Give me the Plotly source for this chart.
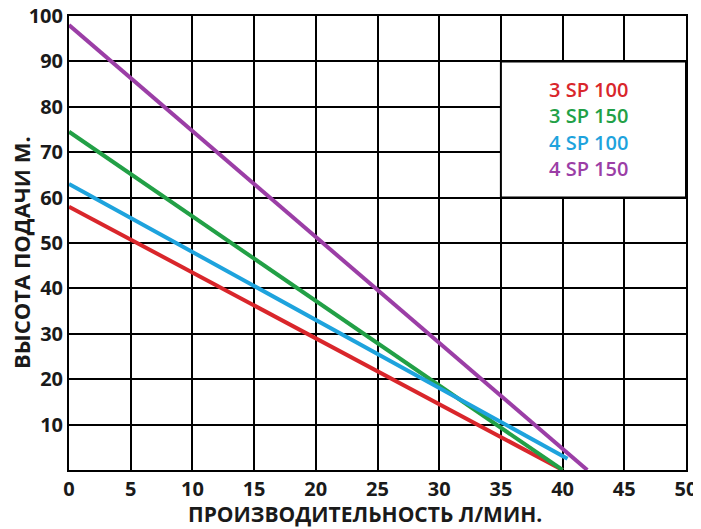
import plotly.graph_objects as go

# Pump curves: flow (l/min) vs head (m).
names = ['3 SP 100', '3 SP 150', '4 SP 100', '4 SP 150']
colors = ['#d9262b', '#22a046', '#1ea3dd', '#9b3ea6']
flow = [[0, 40], [0, 40], [0, 40.4], [0, 42]]
head = [[58, 0], [74.5, 0], [63, 2.5], [98, 0]]

x_ticks = [0, 5, 10, 15, 20, 25, 30, 35, 40, 45, 50]
y_ticks = [10, 20, 30, 40, 50, 60, 70, 80, 90, 100]

fig = go.Figure()
for name, color, x, y in zip(names, colors, flow, head):
    fig.add_trace(go.Scatter(x=x, y=y, mode='lines', name=name,
                             line=dict(color=color, width=4)))

# White legend box sitting in the grid.
fig.add_shape(type='rect', x0=35, x1=50, y0=60, y1=90, layer='above',
              fillcolor='white', line=dict(color='black', width=2))
for i, (name, color) in enumerate(zip(names, colors)):
    fig.add_annotation(x=42.1, y=83.8 - i * 5.8, text=name, showarrow=False,
                       font=dict(family='Open Sans', size=20, color=color,
                                 weight=600))

# Axis titles as annotations so they sit where the original has them.
fig.add_annotation(xref='paper', yref='paper', x=-0.078, y=0.48,
                   xanchor='center', yanchor='middle',
                   text='ВЫСОТА ПОДАЧИ М.', textangle=-90, showarrow=False,
                   font=dict(size=22, weight='bold'))
fig.add_annotation(xref='paper', yref='paper', x=0.48, y=-0.098,
                   xanchor='center', yanchor='middle',
                   text='ПРОИЗВОДИТЕЛЬНОСТЬ Л/МИН.', showarrow=False,
                   font=dict(size=21, weight='bold'))

# The page body adds an 8px margin, so the figure is 8px smaller than the window.
fig.update_layout(
    width=693, height=521, showlegend=False,
    margin=dict(l=61, r=15, t=8, b=59),
    plot_bgcolor='white', paper_bgcolor='white',
    font=dict(family='Open Sans', color='#1a1a1a'),
)
fig.update_xaxes(range=[0, 50], tickvals=x_ticks, showgrid=True,
                 gridcolor='black', gridwidth=2, showline=True, mirror=True,
                 linecolor='black', linewidth=2, zeroline=False, ticks='',
                 automargin=False, ticklabeloverflow='allow',
                 tickfont=dict(size=20, weight='bold'))
fig.update_yaxes(range=[0, 100], tickvals=y_ticks, showgrid=True,
                 gridcolor='black', gridwidth=2, showline=True, mirror=True,
                 linecolor='black', linewidth=2, zeroline=False, ticks='',
                 automargin=False, ticklabeloverflow='allow',
                 tickfont=dict(size=20, weight='bold'))
fig.write_html('out.html')
